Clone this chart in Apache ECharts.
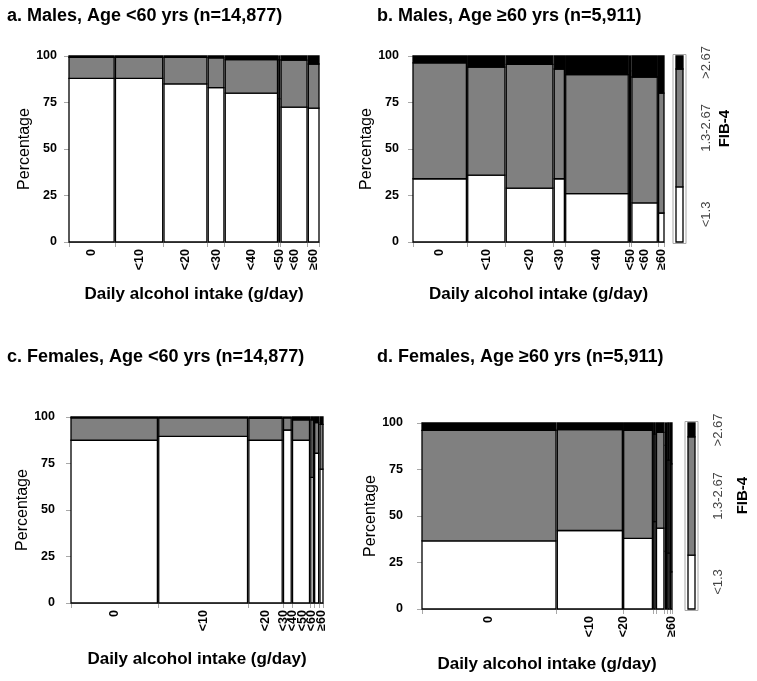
<!DOCTYPE html>
<html><head><meta charset="utf-8">
<script src="https://cdn.jsdelivr.net/npm/echarts@6/dist/echarts.min.js"></script>
<style>html,body{margin:0;padding:0;background:#fff}#c{width:757px;height:681px}</style>
</head><body><div id="c"></div>
<script>
// ---- data ----
const categories = ['0', '<10', '<20', '<30', '<40', '<50', '<60', '≥60'];
const fibLevels = ['<1.3', '1.3-2.67', '>2.67'];

// a. Males, Age <60
const aCounts = [2790, 2920, 2650, 970, 3230, 60, 1600, 660];
const aLow  = [88, 88, 85, 83, 80, 77, 72.5, 72];
const aMid  = [11.3, 11.3, 14.3, 16, 18, 21, 25.3, 23.7];
const aHigh = [0.7, 0.7, 0.7, 1, 2, 2, 2.2, 4.3];

// b. Males, Age >=60
const bCounts = [1306, 910, 1141, 248, 1530, 25, 620, 132];
const bLow  = [34, 36, 29, 34, 26, 20, 21, 15.6];
const bMid  = [62.3, 58, 66.5, 59, 64, 72, 67.7, 64.4];
const bHigh = [3.7, 6, 4.5, 7, 10, 8, 11.3, 20];
const bLegend = [29.6, 63.4, 7];

// c. Females, Age <60
const cCounts = [5297, 5444, 2043, 471, 1040, 153, 245, 184];
const cLow  = [87.5, 89.6, 87.5, 93, 87.5, 67.5, 80.5, 72];
const cMid  = [12, 9.9, 11.8, 6.5, 11, 31, 16.5, 24];
const cHigh = [0.5, 0.5, 0.7, 0.5, 1.5, 1.5, 3, 4];

// d. Females, Age >=60
const dCounts = [3290, 1597, 705, 36, 182, 29, 36, 36];
const dLow  = [36.6, 42.2, 38, 47, 43.5, 31, 30, 20];
const dMid  = [59.4, 54.3, 58, 47, 51.5, 57, 50, 58];
const dHigh = [4, 3.5, 4, 6, 5, 12, 20, 22];
const dLegend = [29, 63.5, 7.5];
const dShownLabels = ['0', '<10', '<20', '', '', '', '', '≥60'];

const yTicks = [0, 25, 50, 75, 100];
const xTitle = 'Daily alcohol intake (g/day)';
const yTitle = 'Percentage';

// ---- layout / style ----
const FONT = '"Liberation Sans", Arial, sans-serif';
const FILLS = ['#ffffff', '#808080', '#000000'];
const AXIS_GREY = '#a8a8a8';

const panels = [
  {title: 'a. Males, Age <60 yrs (n=14,877)', tl: 7, tt: 7,
   counts: aCounts, low: aLow, mid: aMid, high: aHigh, labels: categories,
   grid: {left: 69, top: 56, width: 250, height: 186}, yMargin: 12, yNameGap: 28, xNameGap: 44, legend: null},
  {title: 'b. Males, Age ≥60 yrs (n=5,911)', tl: 377, tt: 7,
   counts: bCounts, low: bLow, mid: bMid, high: bHigh, labels: categories,
   grid: {left: 413, top: 56, width: 251, height: 186}, yMargin: 14, yNameGap: 33, xNameGap: 44,
   legend: {vals: bLegend, grid: {left: 676, top: 56, width: 7, height: 186}, labOff: 23, fibOff: 42}},
  {title: 'c. Females, Age <60 yrs (n=14,877)', tl: 7, tt: 348,
   counts: cCounts, low: cLow, mid: cMid, high: cHigh, labels: categories,
   grid: {left: 71, top: 417, width: 252, height: 186}, yMargin: 16, yNameGap: 34, xNameGap: 48, legend: null},
  {title: 'd. Females, Age ≥60 yrs (n=5,911)', tl: 377, tt: 348,
   counts: dCounts, low: dLow, mid: dMid, high: dHigh, labels: dShownLabels,
   grid: {left: 422, top: 423, width: 250, height: 186}, yMargin: 19, yNameGap: 40, xNameGap: 47,
   legend: {vals: dLegend, grid: {left: 688, top: 423, width: 7, height: 186}, labOff: 23, fibOff: 48}}
];

const grids = [], xAxes = [], yAxes = [], series = [], titles = [];

function rectItem(params, api) {
  const x0 = api.value(0), x1 = api.value(1), y0 = api.value(2), y1 = api.value(3), s = api.value(4);
  const p0 = api.coord([x0, y0]), p1 = api.coord([x1, y1]);
  return {type: 'rect',
    shape: {x: p0[0], y: p1[1], width: Math.max(p1[0] - p0[0], 0.5), height: p0[1] - p1[1]},
    style: {fill: FILLS[s], stroke: '#000', lineWidth: 1.3}};
}

panels.forEach((p, pi) => {
  const n = p.counts.length;
  const total = p.counts.reduce((a, b) => a + b, 0);
  const gap = total * 0.0055;
  const starts = [], ends = [];
  let x = 0;
  for (let i = 0; i < n; i++) { starts.push(x); ends.push(x + p.counts[i]); x += p.counts[i] + gap; }
  const xmax = x - gap;
  const ticks = [0];
  for (let i = 0; i < n - 1; i++) ticks.push(ends[i] + gap / 2);
  ticks.push(xmax);
  // category label positions: column centres, spread apart from the right if they crowd
  const minU = 9.5 * xmax / p.grid.width;
  const pos = [];
  for (let i = 0; i < n; i++) pos.push((starts[i] + ends[i]) / 2);
  for (let i = n - 2; i >= 0; i--) pos[i] = Math.min(pos[i], pos[i + 1] - minU);
  const labData = [];
  for (let i = 0; i < n; i++) if (p.labels[i]) labData.push([pos[i], 0, i]);

  const data = [];
  for (let i = 0; i < n; i++) {
    const segs = [p.low[i], p.mid[i], p.high[i]];
    let y = 0;
    segs.forEach((v, s) => { data.push([starts[i], ends[i], y, y + v, s]); y += v; });
  }

  const gi = grids.length;
  grids.push(Object.assign({containLabel: false}, p.grid));
  titles.push({text: p.title, left: p.tl, top: p.tt, padding: 0,
    textStyle: {fontFamily: FONT, fontSize: 18, fontWeight: 'bold', color: '#000'}});
  xAxes.push({gridIndex: gi, type: 'value', min: 0, max: xmax,
    name: xTitle, nameLocation: 'middle', nameGap: p.xNameGap,
    nameTextStyle: {fontFamily: FONT, fontSize: 17, fontWeight: 'bold', color: '#000'},
    axisLine: {show: true, lineStyle: {color: AXIS_GREY, width: 1}},
    axisTick: {show: true, customValues: ticks, length: 5, lineStyle: {color: AXIS_GREY}},
    axisLabel: {show: false},
    splitLine: {show: false}});
  yAxes.push({gridIndex: gi, type: 'value', min: 0, max: 100, interval: 25,
    name: yTitle, nameLocation: 'middle', nameGap: p.yNameGap,
    nameTextStyle: {fontFamily: FONT, fontSize: 16, color: '#000'},
    axisLine: {show: true, lineStyle: {color: AXIS_GREY, width: 1}},
    axisTick: {show: true, length: 5, lineStyle: {color: AXIS_GREY}},
    axisLabel: {margin: p.yMargin, fontFamily: FONT, fontSize: 12.5, fontWeight: 'bold', color: '#000',
      customValues: yTicks},
    splitLine: {show: false}});
  series.push({type: 'custom', xAxisIndex: gi, yAxisIndex: gi, clip: false, silent: true,
    renderItem: rectItem, data: data, animation: false});
  // category labels under the axis, rotated to read upward
  const labs = p.labels;
  series.push({type: 'custom', xAxisIndex: gi, yAxisIndex: gi, clip: false, silent: true, animation: false,
    data: labData,
    renderItem: function (params, api) {
      const pt = api.coord([api.value(0), 0]);
      return {type: 'text', x: pt[0], y: pt[1] + 7, rotation: Math.PI / 2,
        style: {text: labs[api.value(2)], fill: '#000', font: 'bold 12.5px ' + FONT,
          align: 'right', verticalAlign: 'middle'}};
    }});

  if (p.legend) {
    const L = p.legend;
    const li = grids.length;
    grids.push(Object.assign({containLabel: false}, L.grid));
    xAxes.push({gridIndex: li, type: 'value', min: 0, max: 1, show: false});
    yAxes.push({gridIndex: li, type: 'value', min: 0, max: 100, show: false});
    const ldata = [];
    let y = 0;
    L.vals.forEach((v, s) => { ldata.push([0, 1, y, y + v, s]); y += v; });
    series.push({type: 'custom', xAxisIndex: li, yAxisIndex: li, clip: false, silent: true, animation: false,
      data: ldata,
      renderItem: function (params, api) {
        const cs = params.coordSys;
        const children = [rectItem(params, api)];
        const s = api.value(4);
        const yc = api.coord([0, (api.value(2) + api.value(3)) / 2])[1];
        children.push({type: 'text', x: cs.x + cs.width + L.labOff, y: yc, rotation: Math.PI / 2,
          style: {text: fibLevels[s], fill: '#444', font: '13px ' + FONT, align: 'center', verticalAlign: 'middle'}});
        if (params.dataIndex === 0) {
          children.unshift({type: 'rect', shape: {x: cs.x - 3, y: cs.y - 1.5, width: cs.width + 6, height: cs.height + 3},
            style: {fill: 'none', stroke: AXIS_GREY, lineWidth: 1}});
          children.push({type: 'text', x: cs.x + cs.width + L.fibOff, y: cs.y + cs.height * 0.39, rotation: Math.PI / 2,
            style: {text: 'FIB-4', fill: '#000', font: 'bold 15px ' + FONT, align: 'center', verticalAlign: 'middle'}});
        }
        return {type: 'group', children: children};
      }});
  }
});

const chart = echarts.init(document.getElementById('c'), null, {renderer: 'canvas'});
chart.setOption({
  backgroundColor: '#fff',
  animation: false,
  title: titles,
  grid: grids,
  xAxis: xAxes,
  yAxis: yAxes,
  series: series
});
</script>
</body></html>
